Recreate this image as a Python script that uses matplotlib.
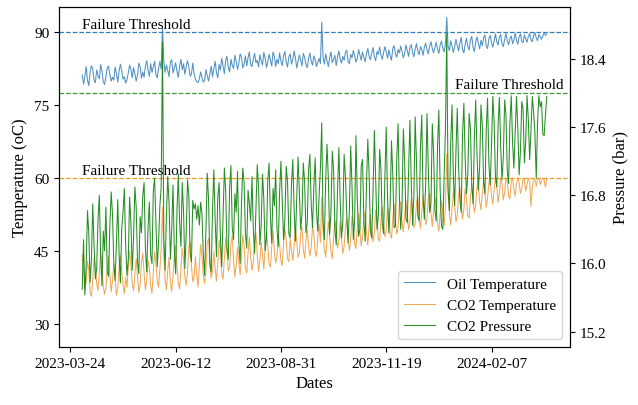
import matplotlib
matplotlib.use("Agg")
import matplotlib.pyplot as plt
import matplotlib.dates as mdates
import matplotlib.transforms as mtransforms
import pandas as pd

plt.rcParams['font.family'] = ['Liberation Serif', 'DejaVu Serif']

start_date = "2023-04-02"
tick_dates = ["2023-03-24", "2023-06-12", "2023-08-31", "2023-11-19", "2024-02-07"]
temp_ticks = [30, 45, 60, 75, 90]
pres_ticks = [15.2, 16.0, 16.8, 17.6, 18.4]
oil_threshold = 90
co2t_threshold = 60
co2p_threshold = 18.0

oil_temp = [
    81.2, 79.3, 80.8, 82.9, 80.1, 79.0, 81.7, 83.1, 82.4, 80.0,
    79.6, 82.2, 81.0, 80.4, 83.3, 82.0, 79.8, 79.2, 80.9, 82.6,
    83.0, 81.3, 79.9, 80.7, 80.1, 82.8, 81.5, 79.7, 81.9, 83.4,
    82.1, 80.3, 80.8, 79.5, 80.2, 81.6, 83.2, 82.3, 80.6, 82.7,
    81.4, 79.9, 81.1, 83.6, 82.9, 80.5, 81.8, 80.7, 83.0, 84.1,
    82.2, 80.9, 83.5, 81.7, 82.8, 84.0, 81.3, 80.6, 82.5, 83.9,
    82.4, 91.0,
    84.0, 81.7, 83.2, 82.1, 80.8, 83.9, 84.3, 81.6,
    82.6, 83.7, 81.9, 80.7, 83.0, 84.4, 82.2, 83.5, 81.3, 82.9,
    84.1, 82.8, 80.9, 81.4, 83.6, 81.5, 80.3, 79.8, 79.6, 80.4,
    81.8, 80.6, 79.7, 80.1, 82.3, 81.0, 79.9, 81.4, 83.0, 80.8,
    82.5, 84.0, 81.7, 80.6, 83.3, 82.2, 84.6, 83.0, 81.4, 84.2,
    85.0, 82.7, 81.8, 84.4, 83.1, 82.5, 85.2, 84.0, 82.3, 83.6,
    85.5, 84.8, 82.6, 83.4, 85.1, 83.0, 84.7, 85.9, 83.3, 82.9,
    84.5, 85.6, 83.7, 84.2, 82.8, 85.3, 84.1, 83.2, 85.8, 84.6,
    82.7, 83.9, 85.4, 84.3, 83.0, 85.9, 85.0, 82.9, 84.4, 83.5,
    85.7, 84.0, 83.1, 85.2, 86.0, 83.8, 82.8, 84.9, 85.5, 83.4,
    84.3, 86.1, 84.7, 82.6, 83.9, 85.3, 84.2, 83.0, 85.6, 84.8,
    83.3, 82.7, 84.5, 85.7, 84.0, 83.2, 85.1, 84.4, 82.9, 83.8,
    84.6, 83.5, 92.0, 84.8, 83.4, 85.5, 84.1, 82.9, 84.7, 85.9,
    83.7, 84.4, 85.2, 83.1, 84.8, 86.1, 84.5, 83.6, 85.0, 84.2,
    85.8, 86.3, 84.0, 83.5, 85.4, 84.7, 86.2, 85.1, 83.8, 84.6,
    86.4, 85.3, 84.2, 85.9, 84.8, 83.9, 85.6, 86.6, 85.0, 84.3,
    85.7, 86.8, 84.9, 84.1, 86.0, 85.4, 86.9, 85.2, 84.4, 85.8,
    87.0, 85.9, 84.6, 86.3, 85.1, 84.2, 86.7, 87.2, 85.5, 84.8,
    86.4, 85.7, 87.1, 86.0, 84.7, 85.6, 87.3, 86.2, 85.0, 86.8,
    87.4, 85.8, 84.9, 86.5, 87.6, 86.1, 85.3, 87.0, 86.4, 85.2,
    86.9, 87.7, 86.3, 85.5, 87.2, 88.0, 86.6, 85.7, 86.8, 87.9,
    86.5, 85.6, 87.4, 88.1, 86.7, 85.9, 87.6, 93.0, 87.0, 86.2,
    88.2, 87.1, 85.8, 86.9, 88.5, 87.3, 86.1, 87.8, 88.9, 86.4,
    85.7, 87.5, 88.7, 87.0, 86.3, 88.4, 89.1, 86.8, 86.0, 87.9,
    89.0, 87.6, 86.5, 88.3, 87.2, 88.8, 89.4, 87.1, 86.6, 88.6,
    89.3, 87.8, 86.9, 88.1, 89.6, 88.0, 87.3, 88.9, 89.5, 87.5,
    87.0, 88.5, 89.7, 88.2, 87.4, 88.7, 89.2, 87.6, 88.4, 89.8,
    88.3, 87.5, 89.0, 89.6, 88.1, 87.8, 89.4, 88.6, 87.9, 89.1,
    89.7, 88.4, 88.0, 89.3, 89.9, 88.8, 88.2, 89.5, 89.0, 88.5,
    89.2, 89.8, 89.3, 89.6,
]

co2_temp = [
    44.2, 40.8, 37.1, 38.6, 42.9, 41.2, 36.4, 35.7, 39.3, 43.6,
    42.0, 38.2, 36.9, 40.5, 44.8, 41.7, 37.8, 36.1, 37.4, 41.0,
    43.9, 40.2, 36.6, 38.9, 42.4, 39.1, 35.9, 37.3, 41.6, 44.1,
    40.7, 38.0, 36.2, 39.6, 37.5, 41.8, 45.0, 42.2, 38.3, 36.8,
    40.1, 43.4, 39.7, 36.5, 38.1, 42.7, 44.6, 40.4, 37.0, 39.0,
    43.1, 41.4, 37.9, 36.3, 40.6, 44.9, 42.5, 38.8, 37.6, 41.3,
    45.4, 54.0,
    44.0, 39.2, 37.0, 40.9, 43.7, 38.5, 36.7, 39.8,
    44.3, 46.1, 42.0, 38.4, 37.2, 41.1, 45.6, 43.4, 39.6, 38.0,
    40.7, 45.9, 46.8, 41.9, 38.7, 39.5, 43.8, 40.2, 37.6, 42.1,
    46.4, 44.0, 39.9, 38.3, 41.2, 46.9, 47.5, 42.6, 39.4, 40.8,
    44.9, 41.5, 38.8, 42.4, 47.2, 45.0, 40.3, 39.2, 43.3, 47.7,
    44.6, 40.9, 41.8, 46.5, 48.1, 43.2, 39.7, 42.0, 45.8, 42.7,
    40.1, 43.9, 48.3, 46.2, 41.4, 40.5, 44.7, 47.9, 43.8, 41.0,
    42.6, 47.1, 48.7, 44.3, 40.8, 43.0, 46.8, 44.1, 41.3, 45.5,
    48.9, 46.0, 42.2, 41.7, 45.9, 49.2, 44.8, 42.5, 43.9, 48.0,
    46.3, 42.9, 42.0, 46.6, 49.5, 47.3, 43.4, 42.8, 47.4, 45.0,
    43.1, 46.0, 49.8, 47.0, 43.7, 44.5, 48.6, 50.0, 45.3, 43.5,
    47.2, 49.4, 46.1, 44.0, 45.7, 50.2, 48.3, 44.6, 43.9, 47.8,
    50.5, 46.7, 56.0, 49.1, 45.2, 43.8, 47.5, 51.0, 48.2, 44.9,
    43.4, 47.6, 51.3, 49.0, 45.6, 46.8, 50.9, 47.7, 44.5, 45.9,
    49.8, 51.8, 48.0, 45.1, 47.3, 52.2, 50.4, 46.4, 45.5, 49.6,
    52.6, 49.3, 46.0, 47.8, 51.9, 53.0, 48.6, 46.2, 50.1, 52.4,
    49.0, 46.9, 48.7, 53.5, 51.2, 47.4, 47.0, 51.4, 54.0, 50.3,
    47.9, 49.2, 53.8, 52.0, 48.3, 47.6, 51.7, 54.6, 51.1, 48.5,
    50.0, 54.3, 55.1, 50.8, 48.9, 52.3, 55.4, 52.5, 49.4, 51.0,
    55.7, 53.6, 49.8, 50.6, 54.8, 56.2, 52.0, 49.6, 52.9, 56.5,
    53.9, 50.4, 51.5, 55.9, 56.8, 52.7, 50.0, 53.4, 56.0, 54.2,
    50.7, 49.1, 52.8, 55.3, 53.1, 50.2, 54.0, 65.0, 57.0, 52.6,
    50.3, 53.9, 57.2, 54.5, 51.0, 52.4, 56.6, 58.0, 54.1, 51.5,
    53.6, 57.8, 55.6, 52.2, 51.8, 55.9, 58.7, 56.0, 52.9, 54.4,
    58.4, 59.3, 55.2, 53.5, 56.5, 59.6, 57.1, 54.0, 55.8, 59.0,
    60.0, 56.4, 54.6, 57.7, 60.0, 58.2, 55.0, 56.9, 60.0, 58.8,
    55.5, 57.0, 60.0, 59.1, 56.2, 55.7, 59.4, 60.0, 57.6, 56.3,
    58.9, 60.0, 59.0, 56.8, 57.9, 60.0, 59.5, 57.3, 58.6, 60.0,
    59.2, 54.2, 58.0, 60.0, 59.7, 58.3, 59.9, 60.0, 58.7, 59.4,
    60.0, 59.6, 58.1, 59.8,
]

co2_pressure = [
    15.70, 16.28, 15.63, 15.98, 16.62, 16.35, 15.78, 16.05, 16.70, 16.20,
    15.82, 15.95, 16.52, 16.80, 16.10, 15.74, 16.38, 16.15, 16.66, 15.90,
    15.85, 16.45, 16.84, 16.58, 16.00, 15.80, 16.25, 16.75, 16.12, 15.77,
    16.40, 16.60, 16.88, 16.22, 15.86, 16.05, 16.78, 16.48, 15.92, 16.30,
    16.90, 16.66, 16.02, 15.88, 16.55, 16.36, 16.80, 16.95, 16.18, 15.90,
    16.42, 16.72, 16.10, 16.00, 16.85, 17.00, 16.50, 15.96, 16.25, 16.68,
    16.90, 18.60,
    16.30, 15.92, 16.58, 17.02, 16.70, 16.05, 16.40, 16.92,
    16.15, 15.88, 16.62, 17.05, 16.48, 16.20, 16.95, 16.60, 15.94, 16.35,
    16.98, 16.80, 16.12, 16.02, 16.74, 16.64, 16.70, 16.52, 16.68, 16.45,
    16.72, 16.58, 16.10, 15.86, 16.40, 17.06, 16.75, 16.00, 15.90, 16.62,
    17.10, 16.52, 16.08, 16.78, 16.95, 16.30, 15.96, 16.55, 17.12, 16.85,
    16.18, 16.05, 16.90, 17.15, 16.42, 16.28, 16.82, 16.60, 17.08, 16.25,
    16.00, 16.70, 17.12, 16.95, 16.35, 16.18, 16.86, 16.70, 16.50, 17.02,
    16.40, 16.12, 16.65, 17.16, 16.90, 16.22, 16.45, 17.05, 16.75, 16.15,
    16.30, 16.98, 17.18, 16.55, 16.24, 16.88, 16.68, 17.10, 16.40, 16.20,
    16.85, 17.20, 16.72, 16.28, 16.52, 17.14, 16.96, 16.35, 16.30, 16.92,
    17.22, 16.64, 16.26, 16.78, 17.25, 16.82, 16.40, 16.58, 17.18, 16.95,
    16.36, 16.48, 17.10, 17.28, 16.70, 16.42, 16.90, 17.24, 16.62, 16.38,
    16.80, 17.12, 17.65, 16.50, 16.28, 16.98, 17.40, 17.00, 16.34, 16.60,
    17.32, 17.10, 16.40, 16.22, 16.86, 17.36, 16.75, 16.30, 16.48, 17.28,
    17.02, 16.58, 16.24, 16.62, 17.38, 16.90, 16.28, 16.50, 17.50, 16.76,
    16.32, 16.40, 17.15, 17.22, 16.52, 16.26, 16.92, 17.46, 17.05, 16.38,
    16.30, 16.85, 17.56, 17.00, 16.40, 16.56, 17.34, 17.10, 16.46, 16.35,
    17.02, 17.60, 16.78, 16.36, 16.70, 17.44, 17.04, 16.42, 16.44, 17.22,
    17.64, 16.80, 16.40, 16.66, 17.58, 17.20, 16.52, 16.48, 17.10, 17.68,
    16.96, 16.45, 16.78, 17.72, 17.18, 16.56, 16.50, 17.36, 17.74, 16.76,
    16.52, 16.94, 17.76, 17.08, 16.60, 16.70, 17.64, 17.30, 16.62, 16.50,
    17.38, 17.80, 16.86, 16.44, 16.40, 17.02, 17.58, 18.70, 16.88, 16.62,
    17.42, 17.86, 17.02, 16.68, 17.32, 17.82, 17.12, 16.74, 16.60, 17.52,
    17.88, 17.22, 16.82, 17.04, 17.76, 17.58, 16.92, 16.70, 17.48, 17.92,
    17.28, 16.86, 17.14, 17.86, 17.62, 16.96, 16.82, 17.56, 17.94, 17.18,
    16.92, 17.38, 17.96, 17.66, 17.02, 16.90, 17.62, 17.95, 17.36, 16.98,
    17.26, 17.92, 17.74, 17.08, 16.94, 17.66, 17.97, 17.42, 17.12, 17.54,
    17.96, 17.58, 17.04, 17.32, 17.90, 17.82, 17.18, 17.44, 17.97, 17.68,
    17.22, 17.56, 17.96, 17.78, 17.52, 17.00, 17.66, 17.97, 17.84, 17.90,
    17.52, 17.50, 17.75, 17.96,
]

n = min(len(oil_temp), len(co2_temp), len(co2_pressure))
dates = pd.date_range(start_date, periods=n, freq="D")

fig = plt.figure(figsize=(6.38, 4.06), dpi=100)
ax = fig.add_axes([59/638, 1-348/406, 511/638, 340/406])
ax2 = ax.twinx()

c_oil = "#2f7fb8"
c_co2t = "#ee9a3a"
c_co2p = "#0f820f"

l1, = ax.plot(dates, oil_temp[:n], color=c_oil, lw=0.75, alpha=0.85, label="Oil Temperature")
l2, = ax.plot(dates, co2_temp[:n], color=c_co2t, lw=0.75, alpha=0.85, label="CO2 Temperature")
l3, = ax2.plot(dates, co2_pressure[:n], color=c_co2p, lw=0.75, alpha=0.9, label="CO2 Pressure")

ax.axhline(oil_threshold, color="#2f7fb8", ls="--", lw=0.9)
ax.axhline(co2t_threshold, color="#e5a11c", ls="--", lw=0.9)
ax2.axhline(co2p_threshold, color="#3a9a3a", ls="--", lw=0.9)

ax.text(dates[0], oil_threshold + 0.3, "Failure Threshold", ha="left", va="bottom", fontsize=11)
ax.text(dates[0], co2t_threshold + 0.3, "Failure Threshold", ha="left", va="bottom", fontsize=11)
trans = mtransforms.blended_transform_factory(ax2.transAxes, ax2.transData)
ax2.text(0.988, co2p_threshold + 0.02, "Failure Threshold", ha="right", va="bottom",
         fontsize=11, transform=trans)

ax.set_ylim(25.27, 95.14)
ax2.set_ylim(15.02, 19.01)
ax.set_yticks(temp_ticks)
ax2.set_yticks(pres_ticks)
ax2.set_yticklabels([f"{v:.1f}" for v in pres_ticks])
ax.set_xticks(pd.to_datetime(tick_dates))
ax.xaxis.set_major_formatter(mdates.DateFormatter("%Y-%m-%d"))

ax.tick_params(labelsize=11)
ax2.tick_params(labelsize=11)
ax.set_xlabel("Dates", fontsize=12)
ax.set_ylabel("Temperature (oC)", fontsize=12)
ax2.set_ylabel("Pressure (bar)", fontsize=12)

ax2.legend(handles=[l1, l2, l3], loc="lower right", fontsize=11)

fig.savefig("out.png", dpi=100)
